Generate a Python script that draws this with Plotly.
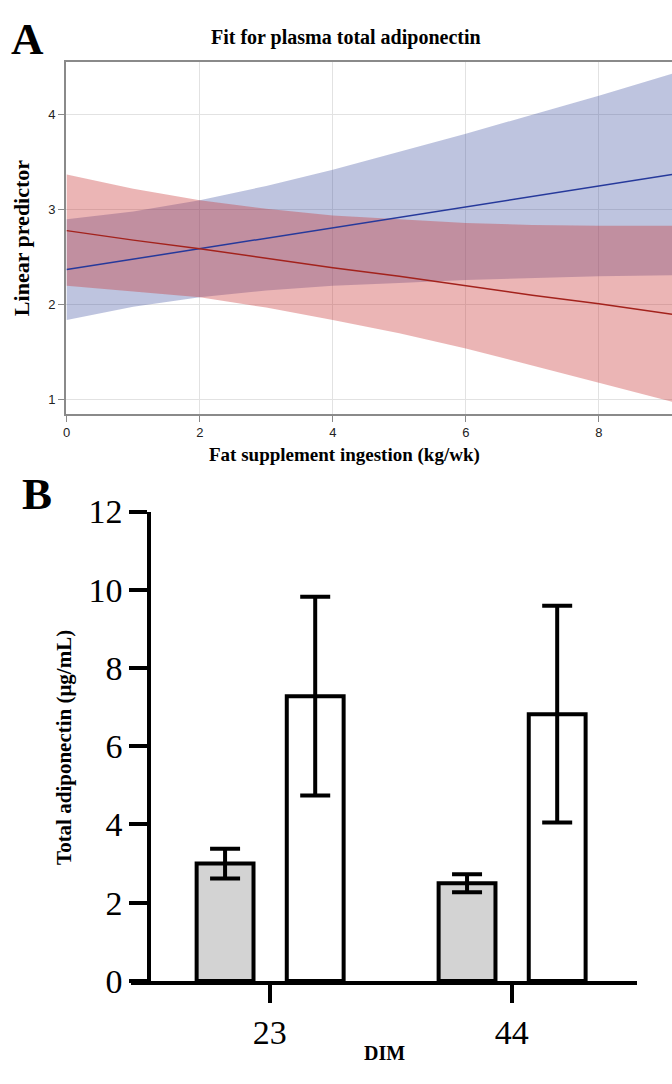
import plotly.graph_objects as go

# ---------- Panel A data ----------
fat_x = [0, 1, 2, 3, 4, 5, 6, 7, 8, 9.1]
blue_fit = [2.37, 2.48, 2.59, 2.70, 2.81, 2.92, 3.03, 3.14, 3.25, 3.37]
blue_upper = [2.90, 2.98, 3.10, 3.25, 3.42, 3.61, 3.80, 4.00, 4.20, 4.43]
blue_lower = [1.84, 1.98, 2.08, 2.15, 2.20, 2.23, 2.26, 2.28, 2.30, 2.31]
red_fit = [2.78, 2.68, 2.59, 2.49, 2.39, 2.30, 2.20, 2.10, 2.01, 1.90]
red_upper = [3.37, 3.22, 3.10, 3.01, 2.94, 2.90, 2.86, 2.84, 2.83, 2.83]
red_lower = [2.20, 2.14, 2.08, 1.97, 1.84, 1.70, 1.54, 1.36, 1.18, 0.98]

# ---------- Panel B data ----------
dim_categories = ["23", "44"]
group1_mean = [3.0, 2.5]
group1_err = [0.38, 0.23]
group2_mean = [7.28, 6.82]
group2_err = [2.54, 2.77]

W, H = 672, 1084
def py(p):
    return 1 - p / H
def px(p):
    return p / W

fig = go.Figure()

# bands
fig.add_trace(go.Scatter(
    x=fat_x + fat_x[::-1], y=blue_upper + blue_lower[::-1],
    fill="toself", fillcolor="rgba(40,60,150,0.30)", line=dict(width=0),
    mode="lines", hoverinfo="skip", showlegend=False, xaxis="x", yaxis="y"))
fig.add_trace(go.Scatter(
    x=fat_x + fat_x[::-1], y=red_upper + red_lower[::-1],
    fill="toself", fillcolor="rgba(200,50,50,0.36)", line=dict(width=0),
    mode="lines", hoverinfo="skip", showlegend=False, xaxis="x", yaxis="y"))
fig.add_trace(go.Scatter(x=fat_x, y=blue_fit, mode="lines",
                         line=dict(color="#26399b", width=1.5),
                         showlegend=False, xaxis="x", yaxis="y"))
fig.add_trace(go.Scatter(x=fat_x, y=red_fit, mode="lines",
                         line=dict(color="#a3221c", width=1.5),
                         showlegend=False, xaxis="x", yaxis="y"))

# bars
bw = 0.235
fig.add_trace(go.Bar(
    x=dim_categories, y=group1_mean, width=bw, offset=-0.3025,
    marker=dict(color="#d3d3d3", line=dict(color="black", width=4)),
    error_y=dict(type="data", array=group1_err, color="black", thickness=4, width=15),
    showlegend=False, xaxis="x2", yaxis="y2"))
fig.add_trace(go.Bar(
    x=dim_categories, y=group2_mean, width=bw, offset=0.07,
    marker=dict(color="white", line=dict(color="black", width=4)),
    error_y=dict(type="data", array=group2_err, color="black", thickness=4, width=15),
    showlegend=False, xaxis="x2", yaxis="y2"))

sans = "Liberation Sans, Arial, sans-serif"
serif = "Liberation Serif, Times New Roman, serif"

fig.update_layout(
    width=W, height=H,
    margin=dict(l=0, r=0, t=0, b=0),
    paper_bgcolor="white", plot_bgcolor="white",
    barmode="overlay",
    xaxis=dict(domain=[px(63), 1.0], range=[-0.015, 9.1], anchor="y",
               dtick=2, tick0=0, showgrid=True, gridcolor="#e2e2e2", gridwidth=1,
               zeroline=False, showline=True, linecolor="#8a8a8a", linewidth=1.5,
               mirror=True, ticks="outside", ticklen=6, tickcolor="#8a8a8a",
               tickfont=dict(family=sans, size=13, color="#222")),
    yaxis=dict(domain=[py(410), py(46)], range=[0.85, 4.55], anchor="x",
               dtick=1, tick0=0, showgrid=True, gridcolor="#e2e2e2", gridwidth=1,
               zeroline=False, showline=True, linecolor="#8a8a8a", linewidth=1.5,
               ticks="outside", ticklen=6, tickcolor="#8a8a8a",
               tickfont=dict(family=sans, size=13, color="#222")),
    xaxis2=dict(domain=[px(129), px(637)], range=[-0.572, 1.518], anchor="y2",
                type="category", showgrid=False, zeroline=False,
                showline=True, linecolor="black", linewidth=4,
                ticks="outside", ticklen=18, tickwidth=4, tickcolor="black",
                tickfont=dict(family=serif, size=34, color="black")),
    yaxis2=dict(domain=[py(997), py(511)], range=[0, 12], anchor="free",
                position=px(147), dtick=2, tick0=0, showgrid=False, zeroline=False,
                showline=True, linecolor="black", linewidth=4,
                ticks="outside", ticklen=18, tickwidth=4, tickcolor="black",
                tickfont=dict(family=serif, size=34, color="black")),
    annotations=[
        dict(text="<b>A</b>", x=px(6), y=py(22), xref="paper", yref="paper",
             xanchor="left", yanchor="middle", showarrow=False,
             font=dict(family=serif, size=45, color="black")),
        dict(text="<b>Fit for plasma total adiponectin</b>", x=px(345), y=py(20),
             xref="paper", yref="paper", xanchor="center", yanchor="middle",
             showarrow=False, font=dict(family=serif, size=20, color="black")),
        dict(text="<b>Linear predictor</b>", x=px(18), y=py(228), xref="paper",
             yref="paper", xanchor="center", yanchor="middle", textangle=-90,
             showarrow=False, font=dict(family=serif, size=22, color="black")),
        dict(text="<b>Fat supplement ingestion (kg/wk)</b>", x=px(343), y=py(452),
             xref="paper", yref="paper", xanchor="center", yanchor="middle",
             showarrow=False, font=dict(family=serif, size=19, color="black")),
        dict(text="<b>B</b>", x=px(17), y=py(493), xref="paper", yref="paper",
             xanchor="left", yanchor="middle", showarrow=False,
             font=dict(family=serif, size=45, color="black")),
        dict(text="<b>Total adiponectin (μg/mL)</b>", x=px(62), y=py(755),
             xref="paper", yref="paper", xanchor="center", yanchor="middle",
             textangle=-90, showarrow=False,
             font=dict(family=serif, size=21, color="black")),
        dict(text="<b>DIM</b>", x=px(383), y=py(1072), xref="paper", yref="paper",
             xanchor="center", yanchor="middle", showarrow=False,
             font=dict(family=serif, size=20, color="black")),
    ],
)

fig.write_html(
    "out.html",
    config={"displayModeBar": False},
    post_script="document.body.style.margin='0';document.body.style.overflow='hidden';",
)
